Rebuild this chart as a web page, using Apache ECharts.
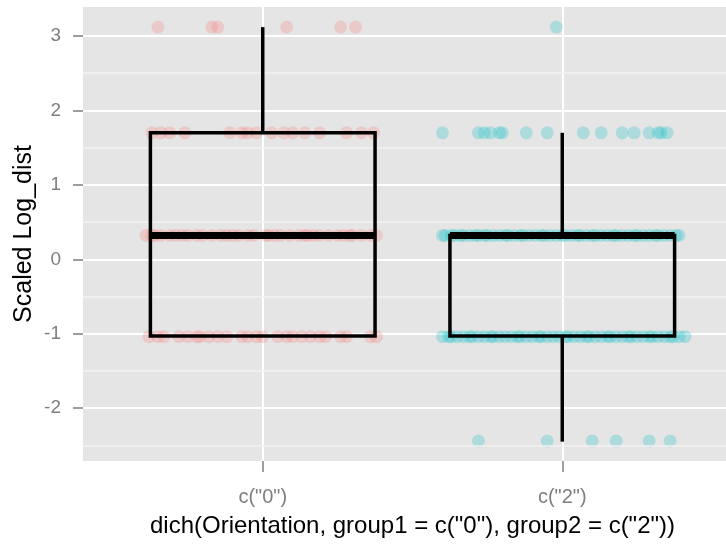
<!DOCTYPE html>
<html lang="en">
<head>
    <meta charset="UTF-8">
    <title>Scaled Log_dist boxplot</title>
    <script type="text/javascript" src="https://cdn.jsdelivr.net/npm/echarts@6/dist/echarts.min.js"></script>
    <style>
        html, body { margin: 0; padding: 0; background: #fff; }
    </style>
</head>
<body>
<div id="main" style="width: 726px; height: 544px"></div>

<script type="text/javascript">
    // categories and their x positions
    var categories = ['c("0")', 'c("2")'];
    var positions = [1, 2];

    // box stats: lower whisker, q1, median, q3, upper whisker
    var stats0 = [-1.03, -1.03, 0.32, 1.70, 3.12];
    var stats2 = [-2.45, -1.03, 0.32, 0.32, 1.70];

    // y ticks and minor grid
    var yTicks = [-2, -1, 0, 1, 2, 3];
    var yMinor = [-2.5, -1.5, -0.5, 0.5, 1.5, 2.5];

    // jittered points: value of each row and horizontal offsets
    var rows0Values = [3.12, 1.70, 0.32, -1.04];
    var rows0Offsets = [
        [-0.35, -0.17, -0.15, 0.08, 0.26, 0.31],
        [-0.37, -0.34, -0.31, -0.26, -0.11, -0.07, -0.05, -0.02, 0.03, 0.07, 0.10, 0.14, 0.19, 0.28, 0.33, 0.37],
        [-0.39, -0.37, -0.36, -0.34, -0.31, -0.29, -0.27, -0.25, -0.22, -0.20, -0.17, -0.14, -0.12, -0.10, -0.08,
         -0.05, -0.03, 0.01, 0.02, 0.04, 0.06, 0.09, 0.12, 0.14, 0.15, 0.17, 0.19, 0.22, 0.25, 0.27, 0.29, 0.30, 0.33, 0.36, 0.38],
        [-0.38, -0.35, -0.33, -0.28, -0.25, -0.22, -0.21, -0.18, -0.15, -0.12, -0.07, -0.05, -0.02, 0.00, 0.05,
         0.08, 0.10, 0.13, 0.16, 0.19, 0.21, 0.26, 0.28, 0.36, 0.38]
    ];
    var rows2Values = [3.12, 1.70, 0.32, -1.04, -2.44];
    var rows2Offsets = [
        [-0.02],
        [-0.40, -0.28, -0.26, -0.24, -0.21, -0.20, -0.12, -0.05, 0.07, 0.13, 0.20, 0.24, 0.29, 0.32, 0.33, 0.35],
        [-0.40, -0.39, -0.37, -0.36, -0.34, -0.33, -0.31, -0.29, -0.28, -0.26, -0.25, -0.23, -0.21, -0.19, -0.18,
         -0.16, -0.14, -0.13, -0.11, -0.09, -0.07, -0.06, -0.04, -0.02, 0.00, 0.01, 0.03, 0.05, 0.06, 0.08,
         0.10, 0.11, 0.13, 0.15, 0.17, 0.18, 0.20, 0.22, 0.24, 0.25, 0.27, 0.29, 0.31, 0.32, 0.34, 0.36, 0.38, 0.39],
        [-0.40, -0.38, -0.37, -0.35, -0.33, -0.31, -0.30, -0.28, -0.26, -0.24, -0.23, -0.21, -0.19, -0.17, -0.15,
         -0.14, -0.12, -0.10, -0.08, -0.07, -0.05, -0.03, -0.01, 0.01, 0.02, 0.04, 0.06, 0.08, 0.09, 0.11,
         0.13, 0.15, 0.16, 0.18, 0.20, 0.22, 0.23, 0.25, 0.27, 0.29, 0.30, 0.32, 0.34, 0.36, 0.37, 0.39, 0.41],
        [-0.28, -0.05, 0.10, 0.18, 0.29, 0.36]
    ];

    var myChart = echarts.init(document.getElementById('main'));

    function buildPoints(pos, values, offsets) {
        var pts = [];
        for (var i = 0; i < values.length; i++) {
            for (var j = 0; j < offsets[i].length; j++) {
                pts.push([pos + offsets[i][j], values[i]]);
            }
        }
        return pts;
    }

    var points0 = buildPoints(positions[0], rows0Values, rows0Offsets);
    var points2 = buildPoints(positions[1], rows2Values, rows2Offsets);
    var boxData = [[positions[0]].concat(stats0), [positions[1]].concat(stats2)];

    var boxWidth = 0.75;
    var font = 'Liberation Sans, Arial, sans-serif';

    function renderBox(params, api) {
        var x = api.value(0);
        var lo = api.coord([x, api.value(1)]);
        var q1 = api.coord([x, api.value(2)]);
        var med = api.coord([x, api.value(3)]);
        var q3 = api.coord([x, api.value(4)]);
        var hi = api.coord([x, api.value(5)]);
        var half = api.size([boxWidth, 0])[0] / 2;
        var line = { stroke: '#000', lineWidth: 3.5 };
        return {
            type: 'group',
            children: [
                { type: 'line', shape: { x1: hi[0], y1: hi[1], x2: q3[0], y2: q3[1] }, style: line },
                { type: 'line', shape: { x1: lo[0], y1: lo[1], x2: q1[0], y2: q1[1] }, style: line },
                { type: 'rect', shape: { x: q1[0] - half, y: q3[1], width: half * 2, height: q1[1] - q3[1] },
                  style: { fill: 'none', stroke: '#000', lineWidth: 3.5 } },
                { type: 'line', shape: { x1: med[0] - half, y1: med[1], x2: med[0] + half, y2: med[1] },
                  style: { stroke: '#000', lineWidth: 7 } }
            ]
        };
    }

    var option = {
        backgroundColor: '#ffffff',
        animation: false,
        grid: {
            left: 83, top: 7, width: 659, height: 454,
            outerBoundsMode: 'none',
            containLabel: false,
            show: true, backgroundColor: '#E5E5E5', borderWidth: 0
        },
        xAxis: {
            type: 'value',
            min: 0.4, max: 2.6,
            name: 'dich(Orientation, group1 = c("0"), group2 = c("2"))',
            nameLocation: 'middle',
            nameGap: 53,
            nameMoveOverlap: false,
            nameTextStyle: { color: '#000', fontSize: 24, fontFamily: font },
            axisLine: { show: false, onZero: false },
            axisTick: { show: true, customValues: positions, length: 11, lineStyle: { color: '#7F7F7F', width: 1.5 } },
            axisLabel: {
                customValues: positions,
                margin: 26, color: '#7F7F7F', fontSize: 20, fontFamily: font,
                formatter: function (v) { return categories[positions.indexOf(v)] || ''; }
            },
            splitLine: { show: true, lineStyle: { color: '#ffffff', width: 2 } }
        },
        yAxis: {
            type: 'value',
            min: -2.71, max: 3.39,
            name: 'Scaled Log_dist',
            nameLocation: 'middle',
            nameGap: 46,
            nameMoveOverlap: false,
            nameTextStyle: { color: '#000', fontSize: 25, fontFamily: font },
            axisLine: { show: false, onZero: false },
            axisTick: { show: true, customValues: yTicks, length: 10, lineStyle: { color: '#7F7F7F', width: 1.5 } },
            axisLabel: { customValues: yTicks, margin: 22, color: '#7F7F7F', fontSize: 19, fontFamily: font },
            splitLine: { show: true, lineStyle: { color: '#ffffff', width: 2 } }
        },
        series: [
            {
                type: 'scatter',
                data: points0,
                symbolSize: 13,
                itemStyle: { color: 'rgba(248,118,109,0.3)' },
                z: 3,
                markLine: {
                    silent: true,
                    symbol: 'none',
                    label: { show: false },
                    lineStyle: { color: '#F2F2F2', width: 1.5, type: 'solid' },
                    data: yMinor.map(function (v) { return { yAxis: v }; })
                }
            },
            {
                type: 'scatter',
                data: points2,
                symbolSize: 13,
                itemStyle: { color: 'rgba(0,191,196,0.3)' },
                z: 3
            },
            {
                type: 'custom',
                data: boxData,
                renderItem: renderBox,
                encode: { x: 0, y: [1, 2, 3, 4, 5] },
                z: 5
            }
        ]
    };

    myChart.setOption(option);
</script>
</body>
</html>
